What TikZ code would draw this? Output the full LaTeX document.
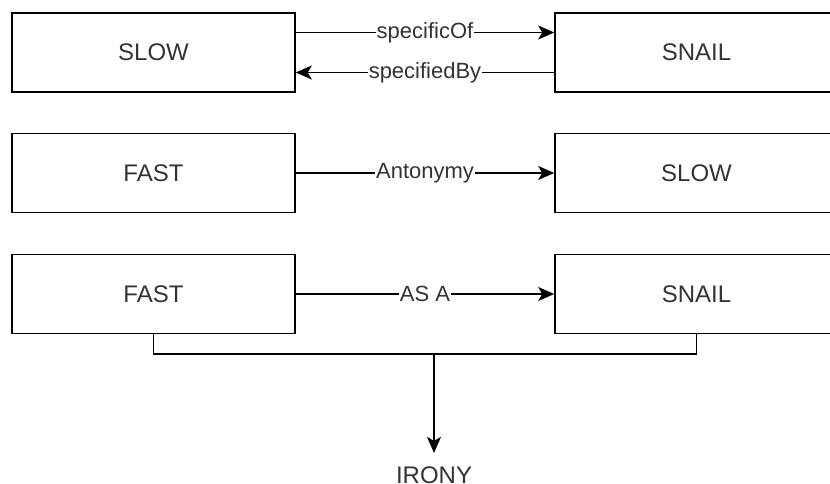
\documentclass[tikz,border=0pt]{standalone}
\usepackage{fontspec}
\setmainfont{Liberation Sans}
\usetikzlibrary{arrows.meta}

\tikzset{
  box/.style={draw=black, line width=1.2pt, minimum width=212.25pt, minimum height=59.5pt,
    font=\fontsize{18}{20}\selectfont, text=black!80},
  rel/.style={line width=1.2pt, -{Stealth[length=12pt, width=10.5pt, inset=3pt]}},
  lbl/.style={fill=white, inner xsep=0.5pt, inner ysep=1pt, font=\fontsize{16.5}{18}\selectfont, text=black!80},
  link/.style={line width=1.2pt}
}

\begin{document}
\begin{tikzpicture}[x=0.75pt,y=-0.75pt]
\useasboundingbox (0,0) rectangle (830,484);

\node [box] (slow) at (153.5, 52.5) {SLOW};
\node [box] (snail) at (696.5, 52.5) {SNAIL};

\draw [rel] ([yshift=15pt]slow.east) -- ([yshift=15pt]snail.west) node[lbl, midway] {specificOf};
\draw [rel] ([yshift=-15pt]snail.west) -- ([yshift=-15pt]slow.east) node[lbl, midway] {specifiedBy};

\node [box] (fast) at (153.5, 173) {FAST};
\node [box] (slowb) at (696.5, 173) {SLOW};

\draw [rel] (fast) -- (slowb) node[lbl, midway] {Antonymy};

\node [box] (fastb) at (153.5, 294) {FAST};
\node [box] (snailb) at (696.5, 294) {SNAIL};

\draw [rel] (fastb) -- (snailb) node[lbl, midway] {AS A};

\coordinate (join) at (434, 354);
\node [inner sep=0pt, font=\fontsize{18}{20}\selectfont, text=black!80] (irony) at (434, 475) {IRONY};

\draw [link] (fastb.south) |- (join) -| (snailb.south);
\draw [rel, shorten >=10pt] (join) -- (irony.north);

\end{tikzpicture}
\end{document}
